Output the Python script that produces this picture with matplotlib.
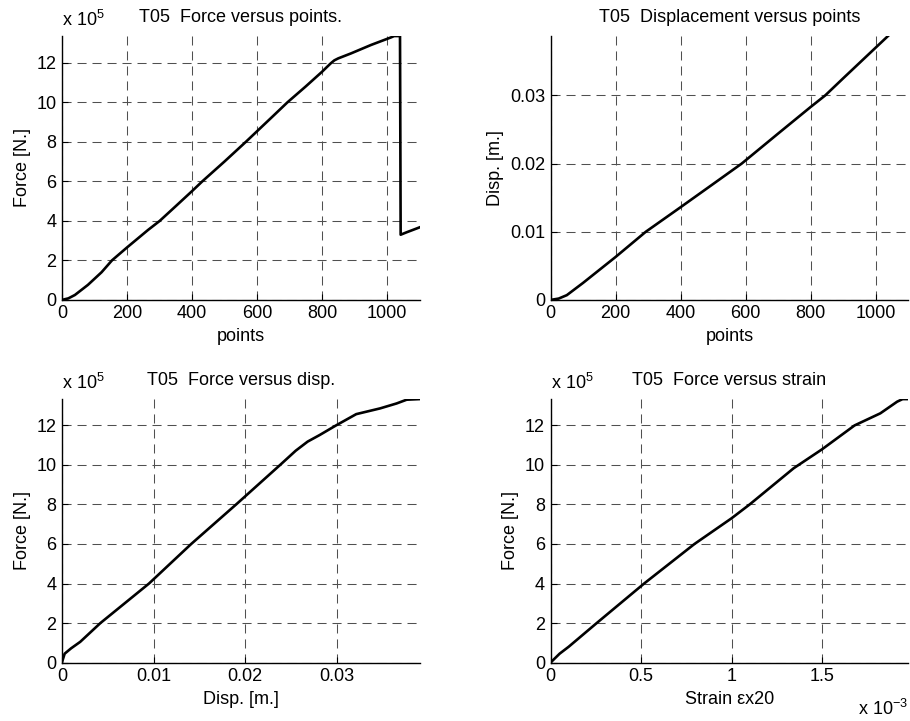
import matplotlib
matplotlib.use("Agg")
import matplotlib.pyplot as plt

plt.rcParams['font.family'] = ['Liberation Sans', 'DejaVu Sans']
plt.rcParams['mathtext.fontset'] = 'custom'
plt.rcParams['mathtext.rm'] = 'Liberation Sans'
plt.rcParams['mathtext.it'] = 'Liberation Sans'
plt.rcParams['font.size'] = 13
plt.rcParams['axes.titlesize'] = 13

# === DATA ===
# force vs points, force in 1e5 N
fp_points = [0, 20, 40, 80, 122, 154, 200, 265, 301, 350, 400, 432, 500, 566, 600, 650,
             694, 750, 800, 815, 827, 838, 850, 889, 951, 1012, 1022, 1040, 1042, 1060, 1100]
fp_force = [0, 0.08, 0.25, 0.76, 1.4, 2.0, 2.65, 3.54, 4.0, 4.74, 5.5, 6.0, 7.0, 8.0, 8.53, 9.31,
            10.0, 10.8, 11.54, 11.78, 11.97, 12.12, 12.22, 12.47, 12.9, 13.28, 13.35, 13.35, 3.3, 3.42, 3.67]

# displacement vs points, m
dp_points = [0, 25, 50, 100, 150, 200, 293, 400, 500, 588, 700, 800, 845, 900, 1000, 1040]
dp_disp = [0, 0.0002, 0.0007, 0.0025, 0.0044, 0.0063, 0.01, 0.0136, 0.017, 0.02,
           0.0244, 0.0283, 0.03, 0.0325, 0.037, 0.0388]

# force vs displacement
fd_disp = [0, 0.0003, 0.001, 0.002, 0.0042, 0.0095, 0.0141, 0.019, 0.0238, 0.0255, 0.0268,
           0.0281, 0.0299, 0.0321, 0.0347, 0.0365, 0.0376, 0.039]
fd_force = [0, 0.45, 0.72, 1.05, 2.0, 4.0, 6.0, 8.0, 10.0, 10.72, 11.18,
            11.51, 12.0, 12.57, 12.86, 13.11, 13.3, 13.33]

# force vs strain, strain in 1e-3
fs_strain = [0, 0.05, 0.1, 0.255, 0.517, 0.795, 1.0, 1.1, 1.343, 1.5, 1.68, 1.822, 1.915, 1.945, 1.976]
fs_force = [0, 0.45, 0.8, 2.0, 4.0, 6.0, 7.3, 8.0, 9.83, 10.79, 12.0, 12.61, 13.2, 13.33, 13.33]

force_ticks = [0, 2, 4, 6, 8, 10, 12]
FMAX = 13.35

fig = plt.figure(figsize=(9.1, 7.21), dpi=100, facecolor='white')

def make_ax(rect):
    ax = fig.add_axes(rect)
    for s in ['top', 'right']:
        ax.spines[s].set_visible(False)
    for s in ['left', 'bottom']:
        ax.spines[s].set_linewidth(1.0)
        ax.spines[s].set_color('black')
    ax.tick_params(direction='in', length=4, width=0.8, pad=4)
    ax.grid(True, color='#505050', linewidth=0.75, linestyle=(0, (8.7, 5.7)))
    ax.set_axisbelow(True)
    return ax

def exp_label(ax):
    ax.text(0.0, 1.038, r'x 10$^{5}$', transform=ax.transAxes, ha='left', va='baseline')

L, R, W = 0.068, 0.605, 0.393
T, B, H = 0.584, 0.081, 0.366

# top left
ax1 = make_ax([L, T, W, H])
ax1.plot(fp_points, fp_force, color='black', lw=1.9)
ax1.set_xlim(0, 1100)
ax1.set_ylim(0, FMAX)
ax1.set_yticks(force_ticks)
ax1.set_xticks([0, 200, 400, 600, 800, 1000])
ax1.set_title('T05  Force versus points.', pad=10)
ax1.set_xlabel('points', labelpad=4)
ax1.set_ylabel('Force [N.]', labelpad=4)
exp_label(ax1)

# top right
ax2 = make_ax([R, T, W, H])
ax2.plot(dp_points, dp_disp, color='black', lw=1.9)
ax2.set_xlim(0, 1100)
ax2.set_ylim(0, 0.0387)
ax2.set_yticks([0, 0.01, 0.02, 0.03])
ax2.set_yticklabels(['0', '0.01', '0.02', '0.03'])
ax2.set_xticks([0, 200, 400, 600, 800, 1000])
ax2.set_title('T05  Displacement versus points', pad=10)
ax2.set_xlabel('points', labelpad=4)
ax2.set_ylabel('Disp. [m.]', labelpad=4)

# bottom left
ax3 = make_ax([L, B, W, H])
ax3.plot(fd_disp, fd_force, color='black', lw=1.9)
ax3.set_xlim(0, 0.039)
ax3.set_ylim(0, FMAX)
ax3.set_yticks(force_ticks)
ax3.set_xticks([0, 0.01, 0.02, 0.03])
ax3.set_xticklabels(['0', '0.01', '0.02', '0.03'])
ax3.set_title('T05  Force versus disp.', pad=10)
ax3.set_xlabel('Disp. [m.]', labelpad=4)
ax3.set_ylabel('Force [N.]', labelpad=4)
exp_label(ax3)

# bottom right
ax4 = make_ax([R, B, W, H])
ax4.plot(fs_strain, fs_force, color='black', lw=1.9)
ax4.set_xlim(0, 1.976)
ax4.set_ylim(0, FMAX)
ax4.set_yticks(force_ticks)
ax4.set_xticks([0, 0.5, 1.0, 1.5])
ax4.set_xticklabels(['0', '0.5', '1', '1.5'])
ax4.set_title('T05  Force versus strain', pad=10)
ax4.set_xlabel('Strain \u03b5x20', labelpad=4)
ax4.set_ylabel('Force [N.]', labelpad=4)
exp_label(ax4)
ax4.text(1.0, -0.2, r'x 10$^{-3}$', transform=ax4.transAxes, ha='right', va='baseline')

fig.savefig('out.png', dpi=100, facecolor='white')
